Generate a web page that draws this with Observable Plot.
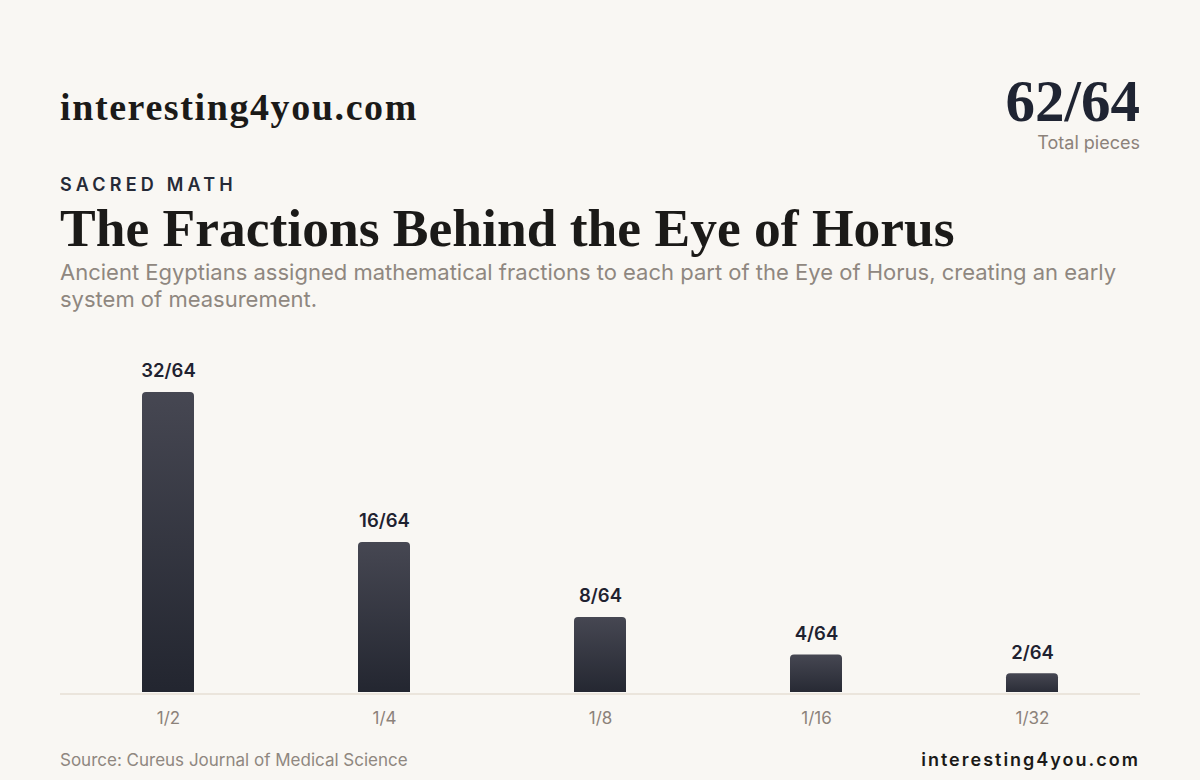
<!DOCTYPE html>
<html>
<head>
<meta charset="utf-8">
<script src="https://cdn.jsdelivr.net/npm/d3@7"></script>
<script src="https://cdn.jsdelivr.net/npm/@observablehq/plot@0.6"></script>
<style>
  html, body { margin: 0; padding: 0; background: #f9f7f3; }
  body { width: 1200px; height: 780px; position: relative; overflow: hidden; font-family: Inter, "Noto Sans", sans-serif; }
  .brand { position: absolute; left: 60px; top: 88px; font-family: "Liberation Serif", "DejaVu Serif", serif; font-weight: 700; font-size: 38px; letter-spacing: 1.6px; color: #1b1a18; line-height: 1; }
  .kpi-num { position: absolute; right: 60px; top: 72px; height: 58px; text-align: right; font-family: "Liberation Serif", "DejaVu Serif", serif; font-weight: 700; font-size: 59px; color: #1f2432; line-height: 58px; }
  .kpi-lab { position: absolute; right: 60px; top: 133px; text-align: right; font-size: 18px; line-height: 20px; color: #8c827a; }
  .eyebrow { position: absolute; left: 60px; top: 176px; font-size: 18px; font-weight: 600; letter-spacing: 4.2px; color: #262a37; line-height: 1; }
  .title { position: absolute; left: 60px; top: 202px; font-family: "Liberation Serif", "DejaVu Serif", serif; font-weight: 700; font-size: 53.5px; color: #1b1a18; line-height: 1; white-space: nowrap; }
  .sub { position: absolute; left: 60px; top: 259px; width: 1080px; font-size: 22px; line-height: 27px; color: #8f8780; }
  #chart { position: absolute; left: 0; top: 330px; }
  .source { position: absolute; left: 60px; top: 750px; font-size: 17px; color: #8f8780; }
  .foot { position: absolute; right: 60px; top: 749px; font-size: 18px; font-weight: 600; letter-spacing: 2px; color: #1b1a18; }
</style>
</head>
<body>
<div class="brand">interesting4you.com</div>
<div class="kpi-num">62/64</div>
<div class="kpi-lab">Total pieces</div>
<div class="eyebrow">SACRED MATH</div>
<div class="title">The Fractions Behind the Eye of Horus</div>
<div class="sub">Ancient Egyptians assigned mathematical fractions to each part of the Eye of Horus, creating an early system of measurement.</div>
<div id="chart"></div>
<div class="source">Source: Cureus Journal of Medical Science</div>
<div class="foot">interesting4you.com</div>
<script>
const fractions = ["1/2", "1/4", "1/8", "1/16", "1/32"];
const pieces = [32, 16, 8, 4, 2];
const labels = ["32/64", "16/64", "8/64", "4/64", "2/64"];

const data = fractions.map((f, i) => ({fraction: f, value: pieces[i], label: labels[i]}));

const plot = Plot.plot({
  width: 1200,
  height: 400,
  marginLeft: 60,
  marginRight: 60,
  marginTop: 62,
  marginBottom: 38,
  style: {background: "transparent", fontFamily: "Inter, sans-serif"},
  x: {domain: fractions, paddingInner: 0.76, paddingOuter: 0.38, label: null},
  y: {domain: [0, 32], axis: null},
  marks: [
    Plot.barY(data, {x: "fraction", y1: () => -0.6, y2: "value", fill: "url(#barGrad)", rx: 4, clip: true}),
    Plot.ruleY([0], {stroke: "#e6dfd5", strokeWidth: 1.5, dy: 1.5}),
    Plot.text(data, {x: "fraction", y: "value", text: "label", dy: -21, fontSize: 18.5, fontWeight: 600, fill: "#1f2230"}),
    Plot.axisX({tickSize: 0, tickPadding: 19, fontSize: 17, color: "#8c827a", label: null})
  ]
});

const svgNS = "http://www.w3.org/2000/svg";
const defs = document.createElementNS(svgNS, "defs");
defs.innerHTML = '<linearGradient id="barGrad" x1="0" y1="0" x2="0" y2="1"><stop offset="0" stop-color="#464752"/><stop offset="1" stop-color="#22252f"/></linearGradient>';
plot.insertBefore(defs, plot.firstChild);
document.getElementById("chart").appendChild(plot);
</script>
</body>
</html>
